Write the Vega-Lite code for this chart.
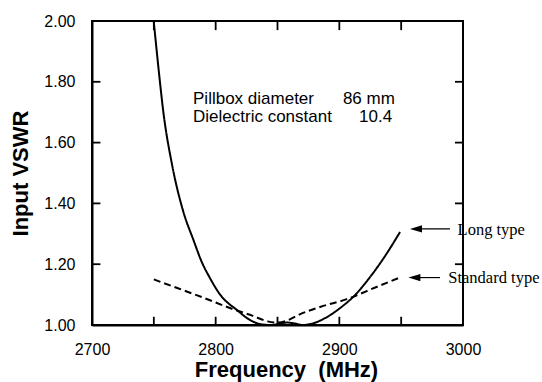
{
  "$schema": "https://vega.github.io/schema/vega-lite/v6.json",
  "width": 371,
  "height": 304,
  "autosize": "none",
  "padding": {"left": 92, "top": 21, "right": 79, "bottom": 57},
  "background": "white",
  "config": {
    "view": {"stroke": "black", "strokeWidth": 2},
    "font": "Liberation Sans",
    "axis": {"grid": false, "domainColor": "black", "domainWidth": 2, "labelColor": "black", "titleColor": "black"}
  },
  "datasets": {
    "curves": [
      {"series": "Long type", "freq": 2749.9, "vswr": 2.0},
      {"series": "Long type", "freq": 2753.5, "vswr": 1.855},
      {"series": "Long type", "freq": 2758.0, "vswr": 1.691},
      {"series": "Long type", "freq": 2764.8, "vswr": 1.526},
      {"series": "Long type", "freq": 2773.9, "vswr": 1.372},
      {"series": "Long type", "freq": 2782.0, "vswr": 1.28},
      {"series": "Long type", "freq": 2788.8, "vswr": 1.207},
      {"series": "Long type", "freq": 2794.9, "vswr": 1.158},
      {"series": "Long type", "freq": 2803.8, "vswr": 1.099},
      {"series": "Long type", "freq": 2817.3, "vswr": 1.049},
      {"series": "Long type", "freq": 2828.0, "vswr": 1.016},
      {"series": "Long type", "freq": 2837.3, "vswr": 1.002},
      {"series": "Long type", "freq": 2845, "vswr": 1.0},
      {"series": "Long type", "freq": 2852, "vswr": 1.005},
      {"series": "Long type", "freq": 2858, "vswr": 1.008},
      {"series": "Long type", "freq": 2864, "vswr": 1.005},
      {"series": "Long type", "freq": 2870, "vswr": 1.0},
      {"series": "Long type", "freq": 2876.5, "vswr": 1.003},
      {"series": "Long type", "freq": 2888.6, "vswr": 1.023},
      {"series": "Long type", "freq": 2900.7, "vswr": 1.056},
      {"series": "Long type", "freq": 2912.8, "vswr": 1.099},
      {"series": "Long type", "freq": 2924.9, "vswr": 1.158},
      {"series": "Long type", "freq": 2937.0, "vswr": 1.227},
      {"series": "Long type", "freq": 2949.1, "vswr": 1.306},
      {"series": "Standard type", "freq": 2750, "vswr": 1.15},
      {"series": "Standard type", "freq": 2770, "vswr": 1.12},
      {"series": "Standard type", "freq": 2790, "vswr": 1.09},
      {"series": "Standard type", "freq": 2812, "vswr": 1.055},
      {"series": "Standard type", "freq": 2830, "vswr": 1.03},
      {"series": "Standard type", "freq": 2842, "vswr": 1.012},
      {"series": "Standard type", "freq": 2850, "vswr": 1.008},
      {"series": "Standard type", "freq": 2858, "vswr": 1.015},
      {"series": "Standard type", "freq": 2868, "vswr": 1.035},
      {"series": "Standard type", "freq": 2885, "vswr": 1.06},
      {"series": "Standard type", "freq": 2906, "vswr": 1.085},
      {"series": "Standard type", "freq": 2930, "vswr": 1.125},
      {"series": "Standard type", "freq": 2950, "vswr": 1.158}
    ],
    "notes": [
      {"x": 2781.7, "y": 1.727, "text": "Pillbox diameter"},
      {"x": 2902.9, "y": 1.727, "text": "86 mm"},
      {"x": 2781.7, "y": 1.667, "text": "Dielectric constant"},
      {"x": 2916, "y": 1.667, "text": "10.4"}
    ],
    "arrows": [
      {"label": "Long type", "tail": 2989.5, "head": 2962, "y": 1.316, "lx": 2995.6, "ly": 1.296},
      {"label": "Standard type", "tail": 2981.4, "head": 2960.7, "y": 1.156, "lx": 2988.1, "ly": 1.137}
    ],
    "frameticks": [
      {"fa": 2750, "fb": 2750, "va": 1.0, "vb": 1.027},
      {"fa": 2800, "fb": 2800, "va": 1.0, "vb": 1.027},
      {"fa": 2850, "fb": 2850, "va": 1.0, "vb": 1.027},
      {"fa": 2900, "fb": 2900, "va": 1.0, "vb": 1.027},
      {"fa": 2950, "fb": 2950, "va": 1.0, "vb": 1.027},
      {"fa": 2750, "fb": 2750, "va": 2.0, "vb": 1.97},
      {"fa": 2800, "fb": 2800, "va": 2.0, "vb": 1.97},
      {"fa": 2850, "fb": 2850, "va": 2.0, "vb": 1.97},
      {"fa": 2900, "fb": 2900, "va": 2.0, "vb": 1.97},
      {"fa": 2950, "fb": 2950, "va": 2.0, "vb": 1.97},
      {"fa": 2700, "fb": 2706.8, "va": 1.2, "vb": 1.2},
      {"fa": 2700, "fb": 2706.8, "va": 1.4, "vb": 1.4},
      {"fa": 2700, "fb": 2706.8, "va": 1.6, "vb": 1.6},
      {"fa": 2700, "fb": 2706.8, "va": 1.8, "vb": 1.8},
      {"fa": 3000, "fb": 2993.5, "va": 1.2, "vb": 1.2},
      {"fa": 3000, "fb": 2993.5, "va": 1.4, "vb": 1.4},
      {"fa": 3000, "fb": 2993.5, "va": 1.6, "vb": 1.6},
      {"fa": 3000, "fb": 2993.5, "va": 1.8, "vb": 1.8}
    ]
  },
  "layer": [
    {
      "data": {"name": "curves"},
      "mark": {"type": "line", "strokeWidth": 2, "color": "black", "interpolate": "monotone"},
      "encoding": {
        "x": {
          "field": "freq", "type": "quantitative",
          "scale": {"domain": [2700, 3000], "nice": false, "zero": false},
          "axis": {
            "orient": "bottom",
            "values": [2700, 2800, 2900, 3000],
            "format": "d",
            "ticks": false,
            "labelOverlap": false,
            "labelFlush": false,
            "labelFontSize": 16,
            "labelPadding": 16,
            "title": "Frequency\u00a0\u00a0(MHz)",
            "titleFontSize": 22,
            "titleFontWeight": "bold",
            "titlePadding": 2,
            "titleX": 194
          }
        },
        "y": {
          "field": "vswr", "type": "quantitative",
          "scale": {"domain": [1, 2], "nice": false, "zero": false},
          "axis": {
            "orient": "left",
            "values": [1, 1.2, 1.4, 1.6, 1.8, 2],
            "format": ".2f",
            "ticks": false,
            "labelOverlap": false,
            "labelFlush": false,
            "labelFontSize": 16,
            "labelPadding": 17,
            "title": "Input VSWR",
            "titleFontSize": 22,
            "titleFontWeight": "bold",
            "titlePadding": 11
          }
        },
        "strokeDash": {
          "field": "series", "type": "nominal",
          "scale": {"domain": ["Long type", "Standard type"], "range": [[1, 0], [7, 4]]},
          "legend": null
        }
      }
    },
    {
      "data": {"name": "frameticks"},
      "mark": {"type": "rule", "color": "black", "strokeWidth": 1.8},
      "encoding": {
        "x": {"field": "fa", "type": "quantitative", "axis": null},
        "x2": {"field": "fb"},
        "y": {"field": "va", "type": "quantitative", "axis": null},
        "y2": {"field": "vb"}
      }
    },
    {
      "data": {"name": "notes"},
      "mark": {"type": "text", "align": "left", "baseline": "alphabetic", "fontSize": 17, "font": "Liberation Sans", "color": "black"},
      "encoding": {
        "x": {"field": "x", "type": "quantitative", "axis": null},
        "y": {"field": "y", "type": "quantitative", "axis": null},
        "text": {"field": "text"}
      }
    },
    {
      "data": {"name": "arrows"},
      "mark": {"type": "rule", "color": "black", "strokeWidth": 1.2},
      "encoding": {
        "x": {"field": "tail", "type": "quantitative", "axis": null},
        "x2": {"field": "head"},
        "y": {"field": "y", "type": "quantitative", "axis": null}
      }
    },
    {
      "data": {"name": "arrows"},
      "mark": {"type": "point", "shape": "M -1 0 L 1 -0.6 L 1 0.6 Z", "filled": true, "color": "black", "opacity": 1, "size": 144},
      "encoding": {
        "x": {"field": "head", "type": "quantitative", "axis": null},
        "y": {"field": "y", "type": "quantitative", "axis": null}
      }
    },
    {
      "data": {"name": "arrows"},
      "mark": {"type": "text", "align": "left", "baseline": "alphabetic", "fontSize": 16.5, "font": "Liberation Serif", "color": "black"},
      "encoding": {
        "x": {"field": "lx", "type": "quantitative", "axis": null},
        "y": {"field": "ly", "type": "quantitative", "axis": null},
        "text": {"field": "label"}
      }
    }
  ],
  "resolve": {"axis": {"x": "independent", "y": "independent"}}
}
